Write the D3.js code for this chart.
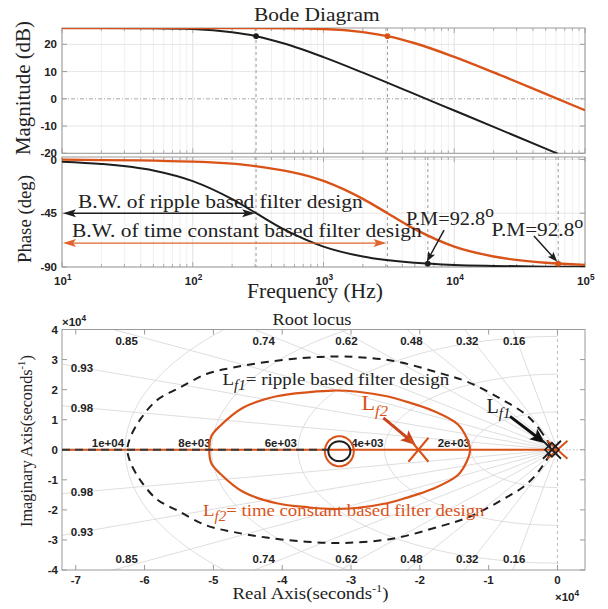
<!DOCTYPE html>
<html>
<head>
<meta charset="utf-8">
<script src="https://cdn.jsdelivr.net/npm/d3@7"></script>
<style>
  body { margin: 0; background: #fff; }
  svg { display: block; }
  .tk { font-family: "Liberation Sans", Arial, sans-serif; font-weight: bold; font-size: 11.5px; fill: #222; }
  .serif { font-family: "Liberation Serif", "Times New Roman", Times, serif; }
</style>
</head>
<body>
<div id="chart"></div>
<script>
// ---- Bode data ----
const ripFreq = [10, 20, 50, 100, 200, 305, 500, 1000, 2000, 5000, 10000, 20000, 50000, 62400];
const ripMag = [26.0, 26.0, 25.9, 25.6, 24.4, 23.0, 20.3, 15.3, 9.6, 1.7, -4.3, -10.3, -18.3, -20.2];
const ripPhFreq = [10, 20, 50, 100, 200, 305, 500, 1000, 2000, 5000, 10000, 20000, 50000, 100000];
const ripPhase = [-1.9, -3.8, -9.3, -18.2, -33.3, -45.0, -58.6, -73.0, -81.3, -86.5, -88.3, -89.1, -89.7, -89.8];
const tcFreq = [10, 100, 300, 1000, 2000, 3084, 5000, 10000, 20000, 50000, 100000];
const tcMag = [26.0, 26.0, 25.96, 25.6, 24.5, 23.0, 20.4, 15.4, 9.7, 1.8, -4.2];
const tcPhase = [-0.2, -1.9, -5.6, -18.0, -33.0, -45.0, -58.3, -72.9, -81.2, -86.5, -88.2];
const bwFreq = [305, 3084];
const bwMag = [23.0, 23.0];
const pmFreq = [6280, 62400];
const pmPhase = [-87.2, -87.2];

const magTicks = [20, 10, 0, -10, -20];
const phaseTicks = [0, -45, -90];
const freqTicks = [1e1, 1e2, 1e3, 1e4, 1e5];

// ---- root locus data (x 1e4) ----
const reTicks = [-7, -6, -5, -4, -3, -2, -1, 0];
const imTicks = [4, 3, 2, 1, 0, -1, -2, -3, -4];
const zetas = [0.16, 0.32, 0.48, 0.62, 0.74, 0.85, 0.93, 0.98];
const wnHz = [2000, 4000, 6000, 8000, 10000];
const wnLabels = ['2e+03', '4e+03', '6e+03', '8e+03', '1e+04'];

const lf1Re = [-0.10, -0.22, -0.45, -0.83, -1.30, -1.71, -2.40, -3.10, -3.65, -4.23, -4.72, -5.10, -5.50, -5.82, -6.05, -6.20, -6.25];
const lf1Im = [0.00, 0.55, 1.15, 1.70, 2.25, 2.55, 2.96, 3.10, 3.06, 2.92, 2.73, 2.52, 2.05, 1.65, 1.05, 0.45, 0.00];
const lf2Re = [-1.27, -1.32, -1.45, -1.81, -2.20, -2.48, -2.90, -3.26, -3.60, -4.08, -4.57, -4.90, -5.03, -5.06];
const lf2Im = [0.00, 0.40, 0.85, 1.30, 1.60, 1.78, 1.93, 1.97, 1.92, 1.78, 1.40, 0.80, 0.45, 0.00];
const loopCenter = [-3.17, -0.05];
const lf1LoopR = [0.16, 0.33];
const lf2LoopR = [0.21, 0.50];
const lf1AxisRe = [-7.2, -3.33];
const lf2AxisRe = [-7.2, 0.0];
const lf1Poles = [-0.08];
const lf2Poles = [-2.02, 0.0];

const orange = '#D95319';
const dark = '#1e1e1e';
const gridC = '#e3e3e3';
const frameC = '#9a9a9a';

const svg = d3.select('#chart').append('svg').attr('width', 608).attr('height', 609);
const defs = svg.append('defs');

const richText = (g, parts, o) => {
  const t = g.append('text').attr('class', o.cls || 'serif').attr('font-size', o.size).attr('fill', o.color || '#222');
  let cur = 0;
  parts.forEach((p) => {
    const shift = p.sup ? -0.42 * o.size : p.sub ? 0.28 * o.size : 0;
    const s = t.append('tspan').text(p.t).attr('dy', shift - cur);
    cur = shift;
    if (p.sup || p.sub) s.attr('font-size', o.size * (p.scale || 0.7));
    if (p.it) s.attr('font-style', 'italic');
  });
  const w = t.node().getBBox().width;
  const W = o.width || w;
  const k = W / w;
  const sh = o.anchor === 'middle' ? -W / 2 : o.anchor === 'end' ? -W : 0;
  t.attr('transform', `translate(${o.x},${o.y}) rotate(${o.rot || 0}) translate(${sh},0) scale(${k},1)`);
  return t;
};

const arrow = (g, p1, p2, o) => {
  const dx = p2[0] - p1[0], dy = p2[1] - p1[1];
  const L = Math.hypot(dx, dy);
  const u = [dx / L, dy / L];
  const head = (tip, d) => {
    const b = [tip[0] - d[0] * o.len, tip[1] - d[1] * o.len];
    const n = [-d[1], d[0]];
    const m = [tip[0] - d[0] * o.len * 0.78, tip[1] - d[1] * o.len * 0.78];
    g.append('path')
      .attr('d', `M${tip}L${b[0] + n[0] * o.hw},${b[1] + n[1] * o.hw}L${m}L${b[0] - n[0] * o.hw},${b[1] - n[1] * o.hw}Z`)
      .attr('fill', o.color);
  };
  const s = o.both ? [p1[0] + u[0] * o.len * 0.7, p1[1] + u[1] * o.len * 0.7] : p1;
  const e = [p2[0] - u[0] * o.len * 0.7, p2[1] - u[1] * o.len * 0.7];
  g.append('line').attr('x1', s[0]).attr('y1', s[1]).attr('x2', e[0]).attr('y2', e[1])
    .attr('stroke', o.color).attr('stroke-width', o.width);
  head(p2, u);
  if (o.both) head(p1, [-u[0], -u[1]]);
};

// =================== BODE ===================
const xF = d3.scaleLog().domain([10, 1e5]).range([62, 585]);
const yM = d3.scaleLinear().domain([-20, 26]).range([153.3, 28]);
const yP = d3.scaleLinear().domain([-90, 2]).range([267, 157]);

const minorFreqs = [];
[10, 100, 1000, 10000].forEach((d) => { for (let k = 2; k <= 9; k++) minorFreqs.push(k * d); });

const panels = [
  { y: yM, ticks: magTicks, id: 'clipM' },
  { y: yP, ticks: phaseTicks, id: 'clipP' },
];
panels.forEach((p) => {
  const [y1, y0] = p.y.range();
  defs.append('clipPath').attr('id', p.id).append('rect')
    .attr('x', 62).attr('y', y0).attr('width', 523).attr('height', y1 - y0);
  const g = svg.append('g');
  g.selectAll('line.minor').data(minorFreqs).enter().append('line')
    .attr('x1', (d) => xF(d)).attr('x2', (d) => xF(d)).attr('y1', y0).attr('y2', y1)
    .attr('stroke', '#ececec').attr('stroke-width', 0.8);
  g.selectAll('line.major').data(freqTicks).enter().append('line')
    .attr('x1', (d) => xF(d)).attr('x2', (d) => xF(d)).attr('y1', y0).attr('y2', y1)
    .attr('stroke', '#dcdcdc').attr('stroke-width', 0.9);
  g.selectAll('line.h').data(p.ticks.filter((t) => t !== 0 || p.id === 'clipP')).enter().append('line')
    .attr('x1', 62).attr('x2', 585).attr('y1', (d) => p.y(d)).attr('y2', (d) => p.y(d))
    .attr('stroke', gridC).attr('stroke-width', 0.9);
  // ticks
  g.selectAll('line.tb').data(minorFreqs.concat(freqTicks)).enter().append('line')
    .attr('x1', (d) => xF(d)).attr('x2', (d) => xF(d))
    .attr('y1', y1).attr('y2', (d) => y1 - (freqTicks.includes(d) ? 5 : 3))
    .attr('stroke', frameC).attr('stroke-width', 0.8);
  g.selectAll('line.tt').data(minorFreqs.concat(freqTicks)).enter().append('line')
    .attr('x1', (d) => xF(d)).attr('x2', (d) => xF(d))
    .attr('y1', y0).attr('y2', (d) => y0 + (freqTicks.includes(d) ? 5 : 3))
    .attr('stroke', frameC).attr('stroke-width', 0.8);
  g.selectAll('line.tl').data(p.ticks).enter().append('line')
    .attr('x1', 62).attr('x2', 67).attr('y1', (d) => p.y(d)).attr('y2', (d) => p.y(d))
    .attr('stroke', frameC);
  g.selectAll('line.tr').data(p.ticks).enter().append('line')
    .attr('x1', 580).attr('x2', 585).attr('y1', (d) => p.y(d)).attr('y2', (d) => p.y(d))
    .attr('stroke', frameC);
  g.append('rect').attr('x', 62).attr('y', y0).attr('width', 523).attr('height', y1 - y0)
    .attr('fill', 'none').attr('stroke', frameC).attr('stroke-width', 1);
  g.selectAll('text.yl').data(p.ticks).enter().append('text').attr('class', 'tk')
    .attr('x', 57).attr('y', (d) => p.y(d)).attr('dy', '0.36em').attr('text-anchor', 'end')
    .text((d) => d);
});

// 0 dB dash-dot line
svg.append('line').attr('x1', 62).attr('x2', 585).attr('y1', yM(0)).attr('y2', yM(0))
  .attr('stroke', '#a8a8a8').attr('stroke-width', 1).attr('stroke-dasharray', '4,2,1,2');

// dashed verticals
const gV = svg.append('g').attr('stroke', '#9c9c9c').attr('stroke-width', 1).attr('stroke-dasharray', '3,3');
bwFreq.forEach((f) => {
  gV.append('line').attr('x1', xF(f)).attr('x2', xF(f)).attr('y1', yM.range()[1]).attr('y2', yM.range()[0]);
});
bwFreq.concat(pmFreq).forEach((f) => {
  gV.append('line').attr('x1', xF(f)).attr('x2', xF(f)).attr('y1', yP.range()[1]).attr('y2', yP.range()[0]);
});

const magLine = d3.line().x((d) => xF(d[0])).y((d) => yM(d[1])).curve(d3.curveMonotoneX);
const phLine = d3.line().x((d) => xF(d[0])).y((d) => yP(d[1])).curve(d3.curveMonotoneX);
const gMag = svg.append('g').attr('clip-path', 'url(#clipM)');
const gPh = svg.append('g').attr('clip-path', 'url(#clipP)');
gMag.append('path').attr('d', magLine(d3.zip(ripFreq, ripMag))).attr('fill', 'none').attr('stroke', dark).attr('stroke-width', 2);
gMag.append('path').attr('d', magLine(d3.zip(tcFreq, tcMag))).attr('fill', 'none').attr('stroke', orange).attr('stroke-width', 2.4);
gPh.append('path').attr('d', phLine(d3.zip(ripPhFreq, ripPhase))).attr('fill', 'none').attr('stroke', dark).attr('stroke-width', 2);
gPh.append('path').attr('d', phLine(d3.zip(tcFreq, tcPhase))).attr('fill', 'none').attr('stroke', orange).attr('stroke-width', 2.4);

// markers
[dark, orange].forEach((c, i) => {
  svg.append('circle').attr('cx', xF(bwFreq[i])).attr('cy', yM(bwMag[i])).attr('r', 2.8).attr('fill', c);
  svg.append('circle').attr('cx', xF(pmFreq[i])).attr('cy', yP(pmPhase[i])).attr('r', 2.8).attr('fill', c);
});

// x tick labels
freqTicks.forEach((f) => {
  richText(svg, [{ t: '10' }, { t: String(Math.round(Math.log10(f))), sup: true, scale: 0.72 }],
    { cls: 'tk', size: 11.5, x: xF(f) + 1, y: 285, anchor: 'middle', color: '#222' });
});

// titles / axis labels
richText(svg, [{ t: 'Bode Diagram' }], { size: 19, x: 254, y: 21, width: 126 });
richText(svg, [{ t: 'Magnitude (dB)' }], { size: 20, x: 30, y: 88, rot: -90, anchor: 'middle', width: 134 });
richText(svg, [{ t: 'Phase (deg)' }], { size: 19, x: 30.5, y: 219, rot: -90, anchor: 'middle', width: 88 });
richText(svg, [{ t: 'Frequency (Hz)' }], { size: 20, x: 247, y: 298, width: 136 });

// bandwidth arrows
const gA = svg.append('g');
arrow(gA, [xF(10) + 1, yP(-45)], [xF(bwFreq[0]) - 1, yP(-45)], { color: dark, width: 1.4, len: 13, hw: 4, both: true });
arrow(gA, [xF(10) + 1, yP(-70)], [xF(bwFreq[1]) - 1, yP(-70)], { color: '#E0642E', width: 1.4, len: 13, hw: 4, both: true });
richText(svg, [{ t: 'B.W. of ripple based filter design' }], { size: 18, x: 78, y: 208, width: 285 });
richText(svg, [{ t: 'B.W. of time constant based filter design' }], { size: 18, x: 72, y: 237, width: 350 });

// P.M annotations
const pmTails = [[8356, -59.1], [40700, -64.1]];
pmTails.forEach((t, i) => {
  arrow(gA, [xF(t[0]), yP(t[1])], [xF(pmFreq[i]) - 1, yP(pmPhase[i]) - 2], { color: dark, width: 1.5, len: 10, hw: 3.8 });
});
richText(svg, [{ t: 'P.M=92.8' }, { t: 'o', sup: true, scale: 0.85 }], { size: 18.5, x: 406, y: 225, width: 88 });
richText(svg, [{ t: 'P.M=92.8' }, { t: 'o', sup: true, scale: 0.85 }], { size: 18.5, x: 491.5, y: 236, width: 92 });

// =================== ROOT LOCUS ===================
const xR = d3.scaleLinear().domain([-7.2, 0.4]).range([62, 585]);
const yR = d3.scaleLinear().domain([-4, 4]).range([570, 329.5]);
defs.append('clipPath').attr('id', 'clipR').append('rect')
  .attr('x', 62).attr('y', 329.5).attr('width', 523).attr('height', 240.5);

const gR = svg.append('g').attr('clip-path', 'url(#clipR)');
const ptLine = d3.line().x((d) => xR(d[0])).y((d) => yR(d[1]));

// sgrid
zetas.forEach((z) => {
  const s = Math.sqrt(1 - z * z);
  [1, -1].forEach((sg) => {
    gR.append('path').attr('d', ptLine([[0, 0], [-12 * z, sg * 12 * s]]))
      .attr('stroke', '#d6d6d6').attr('stroke-width', 0.8).attr('fill', 'none');
  });
});
wnHz.forEach((f) => {
  const r = (2 * Math.PI * f) / 1e4;
  const pts = d3.range(90, 271, 2).map((a) => [r * Math.cos((a * Math.PI) / 180), r * Math.sin((a * Math.PI) / 180)]);
  gR.append('path').attr('d', ptLine(pts))
    .attr('stroke', '#d6d6d6').attr('stroke-width', 0.8).attr('fill', 'none');
});
gR.append('path').attr('d', ptLine([[0, -4], [0, 4]])).attr('stroke', '#b5b5b5').attr('stroke-width', 0.9).attr('stroke-dasharray', '3,3');
gR.append('path').attr('d', ptLine([[-7.2, 0], [0.4, 0]])).attr('stroke', '#b5b5b5').attr('stroke-width', 0.9).attr('stroke-dasharray', '1.5,2');

// frame + ticks
const gF = svg.append('g');
gF.selectAll('line.b').data(reTicks).enter().append('line')
  .attr('x1', (d) => xR(d)).attr('x2', (d) => xR(d)).attr('y1', 570).attr('y2', 565).attr('stroke', frameC);
gF.selectAll('line.t').data(reTicks).enter().append('line')
  .attr('x1', (d) => xR(d)).attr('x2', (d) => xR(d)).attr('y1', 329.5).attr('y2', 334.5).attr('stroke', frameC);
gF.selectAll('line.l').data(imTicks).enter().append('line')
  .attr('x1', 62).attr('x2', 67).attr('y1', (d) => yR(d)).attr('y2', (d) => yR(d)).attr('stroke', frameC);
gF.selectAll('line.r').data(imTicks).enter().append('line')
  .attr('x1', 580).attr('x2', 585).attr('y1', (d) => yR(d)).attr('y2', (d) => yR(d)).attr('stroke', frameC);
gF.append('rect').attr('x', 62).attr('y', 329.5).attr('width', 523).attr('height', 240.5)
  .attr('fill', 'none').attr('stroke', frameC);
gF.selectAll('text.x').data(reTicks).enter().append('text').attr('class', 'tk')
  .attr('x', (d) => xR(d)).attr('y', 584).attr('text-anchor', 'middle').text((d) => d);
gF.selectAll('text.y').data(imTicks).enter().append('text').attr('class', 'tk')
  .attr('x', 58).attr('y', (d) => yR(d)).attr('dy', '0.36em').attr('text-anchor', 'end').text((d) => d);

// damping + frequency labels
const gL = svg.append('g');
zetas.forEach((z) => {
  const t = Math.sqrt(1 - z * z) / z;
  const pos = z < 0.9 ? [[-3.88 / t, 3.62], [-3.88 / t, -3.62]] : [[-6.91, 6.91 * t], [-6.91, -6.91 * t]];
  pos.forEach((p) => {
    gL.append('text').attr('class', 'tk').attr('font-size', 12.5).attr('x', xR(p[0])).attr('y', yR(p[1]))
      .attr('dy', '0.36em').attr('text-anchor', 'middle').text(z.toFixed(2));
  });
});
wnHz.forEach((f, i) => {
  const r = (2 * Math.PI * f) / 1e4;
  gL.append('text').attr('class', 'tk').attr('font-size', 12.5).attr('x', xR(-r) - 1).attr('y', yR(0) - 3)
    .attr('text-anchor', 'end').text(wnLabels[i]);
});

// loci
const gLoc = svg.append('g').attr('clip-path', 'url(#clipR)');
const smooth = d3.line().x((d) => xR(d[0])).y((d) => yR(d[1])).curve(d3.curveCatmullRomClosed.alpha(0.5));
const closedLoop = (re, im) => {
  const up = d3.zip(re, im);
  const down = up.slice(1, -1).reverse().map((d) => [d[0], -d[1]]);
  return up.concat(down);
};
const ellipsePts = (c, r) => d3.range(0, 360, 6).map((a) => [c[0] + r[0] * Math.cos((a * Math.PI) / 180), c[1] + r[1] * Math.sin((a * Math.PI) / 180)]);

gLoc.append('path').attr('d', ptLine(lf2AxisRe.map((r) => [r, 0])))
  .attr('stroke', orange).attr('stroke-width', 2.2).attr('fill', 'none');
gLoc.append('path').attr('d', smooth(closedLoop(lf2Re, lf2Im)))
  .attr('stroke', orange).attr('stroke-width', 2.2).attr('fill', 'none');
gLoc.append('path').attr('d', smooth(ellipsePts(loopCenter, lf2LoopR)))
  .attr('stroke', orange).attr('stroke-width', 2).attr('fill', 'none');
gLoc.append('path').attr('d', ptLine(lf1AxisRe.map((r) => [r, 0])))
  .attr('stroke', '#3a3a3a').attr('stroke-width', 2.2).attr('stroke-dasharray', '8,5').attr('fill', 'none');
gLoc.append('path').attr('d', smooth(closedLoop(lf1Re, lf1Im)))
  .attr('stroke', dark).attr('stroke-width', 2).attr('stroke-dasharray', '8,6').attr('fill', 'none');
gLoc.append('path').attr('d', smooth(ellipsePts(loopCenter, lf1LoopR)))
  .attr('stroke', dark).attr('stroke-width', 2).attr('fill', 'none');

// pole markers
const cross = (g, re, c, hx, hy, w) => {
  g.append('path')
    .attr('d', `M${xR(re) - hx},${yR(0) - hy}L${xR(re) + hx},${yR(0) + hy}M${xR(re) - hx},${yR(0) + hy}L${xR(re) + hx},${yR(0) - hy}`)
    .attr('stroke', c).attr('stroke-width', w).attr('fill', 'none');
};
lf2Poles.forEach((p) => cross(gLoc, p, orange, 10, p === 0 ? 9 : 12, 2));
lf1Poles.forEach((p) => {
  cross(gLoc, p, dark, 9, 9, 1.8);
  gLoc.append('path')
    .attr('d', `M${xR(p) - 7},${yR(0)}L${xR(p)},${yR(0) - 7}L${xR(p) + 7},${yR(0)}L${xR(p)},${yR(0) + 7}Z`)
    .attr('stroke', dark).attr('stroke-width', 1.6).attr('fill', 'none');
});

// annotations
arrow(gL, [xR(-2.53), yR(1.06)], [xR(-2.06), yR(0.16)], { color: '#C9441A', width: 3, len: 15, hw: 6.5 });
arrow(gL, [xR(-0.69), yR(1.11)], [xR(-0.18), yR(0.22)], { color: '#111', width: 3, len: 15, hw: 6.5 });
richText(svg, [{ t: 'L' }, { t: 'f2', sub: true, it: true, scale: 0.75 }], { size: 20, x: 361.5, y: 410, width: 27, color: orange });
richText(svg, [{ t: 'L' }, { t: 'f1', sub: true, it: true, scale: 0.75 }], { size: 20, x: 486.5, y: 412.5, width: 24, color: '#222' });
richText(svg, [{ t: 'L' }, { t: 'f1', sub: true, it: true, scale: 0.8 }, { t: '= ripple based filter design' }],
  { size: 17.5, x: 222.5, y: 385, width: 227, color: '#222' });
richText(svg, [{ t: 'L' }, { t: 'f2', sub: true, it: true, scale: 0.8 }, { t: '= time constant based filter design' }],
  { size: 17.5, x: 203, y: 516, width: 282, color: orange });

richText(svg, [{ t: 'Root locus' }], { size: 17, x: 272.5, y: 325, width: 79 });
richText(svg, [{ t: 'Real Axis(seconds' }, { t: '-1', sup: true, scale: 0.65 }, { t: ')' }], { size: 17, x: 232.5, y: 599, width: 156 });
richText(svg, [{ t: 'Imaginary Axis(seconds' }, { t: '-1', sup: true, scale: 0.65 }, { t: ')' }],
  { size: 17, x: 32, y: 441, rot: -90, anchor: 'middle', width: 172 });
richText(svg, [{ t: '\u00d7' }, { t: '10' }, { t: '4', sup: true, scale: 0.72 }], { cls: 'tk', size: 11.5, x: 62, y: 326, color: '#222' });
richText(svg, [{ t: '\u00d7' }, { t: '10' }, { t: '4', sup: true, scale: 0.72 }], { cls: 'tk', size: 11.5, x: 555, y: 601, color: '#222' });
</script>
</body>
</html>
